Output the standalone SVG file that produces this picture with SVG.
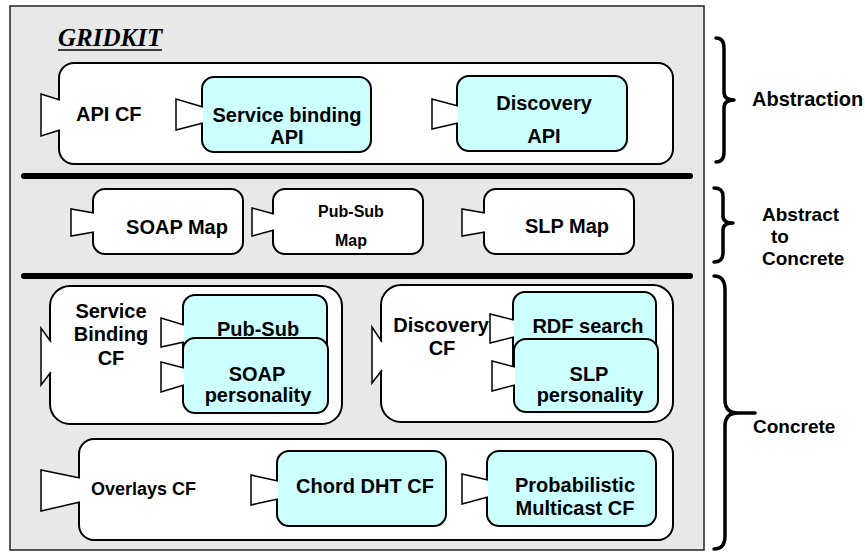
<svg xmlns="http://www.w3.org/2000/svg" width="865" height="552" viewBox="0 0 865 552">
<style>
.bg{fill:#e8e8e8;stroke:#222;stroke-width:1.5}
.box{fill:#fff;stroke:#000;stroke-width:2}
.cyan{fill:#ccffff;stroke:#000;stroke-width:2}
.port{fill:#fff;stroke:#000;stroke-width:1.5;stroke-linejoin:miter}
.t{font-family:"Liberation Sans",Arial,Helvetica,sans-serif;font-weight:bold;font-size:20px;fill:#000}
.c{text-anchor:middle}
.s16{font-size:16px}
.s18{font-size:18px}
.s19{font-size:19px}
.brace{fill:none;stroke:#000;stroke-width:3.5;stroke-linecap:round;stroke-linejoin:round}
.sep{stroke:#000;stroke-width:6;stroke-linecap:round}
</style>
<rect class="bg" x="10" y="6" width="694" height="544"/>
<g id="title">
<text x="58" y="46" style="font-family:'Liberation Serif','Times New Roman',serif;font-weight:bold;font-style:italic;font-size:25px">GRIDKIT</text>
<line x1="58" y1="50" x2="162" y2="50" stroke="#000" stroke-width="1.5"/>
</g>

<g id="api-cf">
<rect class="box" x="59" y="63" width="614" height="101" rx="15"/>
<path class="port" d="M60,100 L41,94 L41,136 L60,130"/>
<text class="t" x="76" y="121">API CF</text>
</g>
<g id="service-binding-api">
<rect class="cyan" x="202" y="77" width="169" height="75" rx="12"/>
<path class="port" d="M203,107 L176,99 L176,130 L203,123"/>
<text class="t c" x="287" y="122">Service binding</text>
<text class="t c" x="287" y="144">API</text>
</g>
<g id="discovery-api">
<rect class="cyan" x="457" y="76" width="170" height="75" rx="12"/>
<path class="port" d="M458,106 L432,99 L432,129 L458,123"/>
<text class="t c" x="544" y="110">Discovery</text>
<text class="t c" x="544" y="143">API</text>
</g>

<g id="soap-map">
<rect class="box" x="93" y="189" width="150" height="65" rx="12"/>
<path class="port" d="M94,213 L71,209 L71,236 L94,232"/>
<text class="t c" x="177" y="234">SOAP Map</text>
</g>
<g id="pubsub-map">
<rect class="box" x="273" y="189" width="150" height="65" rx="12"/>
<path class="port" d="M274,214 L252,208 L252,236 L274,230"/>
<text class="t c s16" x="351" y="217">Pub-Sub</text>
<text class="t c s16" x="351" y="246">Map</text>
</g>
<g id="slp-map">
<rect class="box" x="484" y="189" width="150" height="65" rx="12"/>
<path class="port" d="M485,213 L462,209 L462,236 L485,232"/>
<text class="t c" x="567" y="233">SLP Map</text>
</g>

<g id="service-binding-cf">
<rect class="box" x="50" y="286" width="292" height="138" rx="20"/>
<path class="port" d="M51,342 L41,328 L41,385 L51,372"/>
<text class="t c" x="111" y="318">Service</text>
<text class="t c" x="111" y="341">Binding</text>
<text class="t c" x="111" y="365">CF</text>
</g>
<g id="pubsub">
<rect class="cyan" x="183" y="295" width="144" height="90" rx="12"/>
<path class="port" d="M184,325 L161,318 L161,347 L184,342"/>
<text class="t c" x="258" y="336">Pub-Sub</text>
</g>
<g id="soap-personality">
<rect class="cyan" x="183" y="338" width="145" height="75" rx="12"/>
<path class="port" d="M184,368 L161,362 L161,392 L184,385"/>
<text class="t c" x="257" y="381">SOAP</text>
<text class="t c" x="258" y="402">personality</text>
</g>

<g id="discovery-cf">
<rect class="box" x="381" y="285" width="292" height="137" rx="20"/>
<path class="port" d="M382,342 L372,327 L372,383 L382,370"/>
<text class="t c" x="441" y="332">Discovery</text>
<text class="t c" x="442" y="355">CF</text>
</g>
<g id="rdf-search">
<rect class="cyan" x="513" y="292" width="143" height="90" rx="12"/>
<path class="port" d="M514,320 L490,314 L490,343 L514,337"/>
<text class="t c" x="588" y="333">RDF search</text>
</g>
<g id="slp-personality">
<rect class="cyan" x="514" y="339" width="144" height="73" rx="12"/>
<path class="port" d="M515,367 L492,361 L492,391 L515,385"/>
<text class="t c" x="589" y="381">SLP</text>
<text class="t c" x="590" y="402">personality</text>
</g>

<g id="overlays-cf">
<rect class="box" x="79" y="439" width="594" height="101" rx="15"/>
<path class="port" d="M80,478 L41,470 L41,511 L80,502"/>
<text class="t s18" x="91" y="495">Overlays CF</text>
</g>
<g id="chord-dht-cf">
<rect class="cyan" x="277" y="451" width="169" height="75" rx="12"/>
<path class="port" d="M278,481 L251,475 L251,505 L278,499"/>
<text class="t c" x="365" y="493">Chord DHT CF</text>
</g>
<g id="probabilistic-multicast-cf">
<rect class="cyan" x="487" y="451" width="169" height="75" rx="12"/>
<path class="port" d="M488,480 L462,474 L462,504 L488,497"/>
<text class="t c" x="575" y="492">Probabilistic</text>
<text class="t c" x="575" y="515">Multicast CF</text>
</g>

<g id="connectors">
<line class="sep" x1="24" y1="176" x2="690" y2="176"/>
<line class="sep" x1="24" y1="276" x2="690" y2="276"/>
<path class="brace" d="M716,38 Q724,38 724,48 L724,92 Q724,100 734,100 Q724,100 724,108 L724,152 Q724,162 716,162"/>
<path class="brace" d="M714,188 Q723,188 723,196 L723,216 Q723,223 733,223 Q723,223 723,230 L723,253 Q723,262 714,262"/>
<path class="brace" d="M714,276 Q725,276 725,290 L725,400 Q725,413 738,413 L755,413 M738,413 Q725,413 725,426 L725,536 Q725,549 714,549"/>
</g>
<g id="labels">
<text class="t" x="752" y="106">Abstraction</text>
<text class="t s19" x="762" y="221">Abstract</text>
<text class="t s19" x="771" y="243">to</text>
<text class="t s19" x="762" y="265">Concrete</text>
<text class="t s19" x="753" y="433">Concrete</text>
</g>
</svg>
